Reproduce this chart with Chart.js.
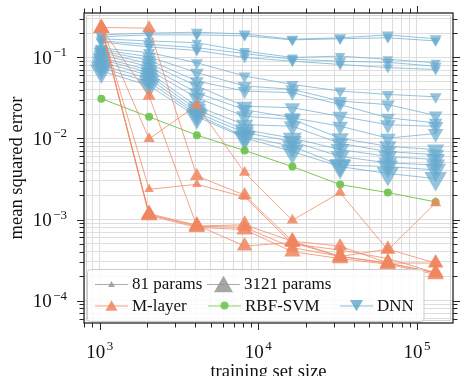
<!DOCTYPE html>
<html>
<head>
<meta charset="utf-8">
<script src="https://cdn.jsdelivr.net/npm/chart.js@4.4.0/dist/chart.umd.min.js"></script>
<style>
  html, body { margin: 0; padding: 0; background: #fff; }
  #wrap { width: 466px; height: 376px; }
</style>
</head>
<body>
<div id="wrap"><canvas id="chart" width="466" height="376"></canvas></div>
<script>
// Trainingsgrössen (x-Achse)
const trainSizes = [1024, 2048, 4096, 8192, 16384, 32768, 65536, 131072];

// M-layer: ein Lauf pro Parameteranzahl
const mlayerRuns = [
  [0.23, 0.0099, 0.0257, 0.0038, 0.00098, 0.00215, 0.00042, 0.0016],
  [0.235, 0.23, 0.00345, 0.0020, 0.00054, 0.00047, 0.00029, 0.00029],
  [0.23, 0.0334, 0.00083, 0.00080, 0.00045, 0.00035, 0.00029, 0.00022],
  [0.23, 0.00236, 0.00272, 0.0019, 0.00050, 0.00042, 0.00033, 0.00022],
  [0.23, 0.00115, 0.00083, 0.00086, 0.00054, 0.00035, 0.00029, 0.00022],
  [0.23, 0.00112, 0.00080, 0.00075, 0.00040, 0.00033, 0.00028, 0.00021],
  [0.23, 0.00118, 0.00085, 0.00047, 0.00052, 0.00035, 0.00043, 0.00029],
];

// RBF-SVM
const svmMse = [0.031, 0.0185, 0.011, 0.0071, 0.0045, 0.0027, 0.00215, 0.00165];

// DNN: ein Lauf pro Architektur
const dnnRuns = [
  [0.19, 0.20, 0.205, 0.195, 0.168, 0.175, 0.19, 0.17],
  [0.18, 0.19, 0.19, 0.185, 0.165, 0.17, 0.175, 0.16],
  [0.17, 0.16, 0.152, 0.12, 0.10, 0.104, 0.095, 0.086],
  [0.16, 0.145, 0.132, 0.112, 0.095, 0.09, 0.087, 0.078],
  [0.155, 0.135, 0.122, 0.10, 0.09, 0.082, 0.075, 0.071],
  [0.13, 0.115, 0.086, 0.059, 0.0465, 0.0385, 0.035, 0.0327],
  [0.125, 0.102, 0.065, 0.0445, 0.0405, 0.029, 0.0262, 0.0192],
  [0.12, 0.093, 0.051, 0.0385, 0.0367, 0.0262, 0.018, 0.0156],
  [0.115, 0.084, 0.0445, 0.025, 0.024, 0.0188, 0.0148, 0.0141],
  [0.108, 0.077, 0.0367, 0.0227, 0.018, 0.0142, 0.0101, 0.0115],
  [0.10, 0.07, 0.0318, 0.0188, 0.0172, 0.0101, 0.008, 0.0073],
  [0.095, 0.065, 0.025, 0.0148, 0.0142, 0.0087, 0.0069, 0.0063],
  [0.088, 0.06, 0.0227, 0.0128, 0.0101, 0.0073, 0.006, 0.0055],
  [0.08, 0.055, 0.0208, 0.0118, 0.0092, 0.006, 0.005, 0.0047],
  [0.074, 0.05, 0.0196, 0.0106, 0.008, 0.0047, 0.0045, 0.0041],
  [0.068, 0.045, 0.0186, 0.0102, 0.0069, 0.0045, 0.0037, 0.0032],
];

// Achsenbeschriftungen (Exponenten) und Legende
const xTickExps = [3, 4, 5];
const yTickExps = [-1, -2, -3, -4];
const legendLabels = ["81 params", "3121 params", "M-layer", "RBF-SVM", "DNN"];

// Stil: Markergrössen je Lauf
const mlayerSizes = [6.5, 8, 7.5, 5.5, 9.5, 9.5, 9];
const dnnSizes = [7, 6, 6, 7, 6, 7, 8, 8, 9, 9, 10, 10, 11, 11, 12, 13];

const ORANGE = "rgba(240,134,96,";
const BLUE = "rgba(103,169,207,";
const GREEN = "rgba(108,194,74,";
const SERIF = '"Liberation Serif", "DejaVu Serif", serif';

const toPoints = (ys) => trainSizes.map((x, i) => ({ x, y: ys[i] }));

const datasets = [];

// Reihenfolge: erste Datensätze liegen oben
mlayerRuns.forEach((run, i) => {
  datasets.push({
    label: "M-layer",
    data: toPoints(run),
    borderColor: ORANGE + "0.75)",
    borderWidth: 1,
    backgroundColor: ORANGE + "0.85)",
    pointStyle: "triangle",
    pointRadius: mlayerSizes[i],
    pointBorderWidth: 0,
  });
});

datasets.push({
  label: "RBF-SVM",
  data: toPoints(svmMse),
  borderColor: GREEN + "0.9)",
  borderWidth: 1,
  backgroundColor: GREEN + "0.9)",
  pointStyle: "circle",
  pointRadius: 4,
  pointBorderWidth: 0,
});

dnnRuns.forEach((run, i) => {
  datasets.push({
    label: "DNN",
    data: toPoints(run),
    borderColor: BLUE + "0.7)",
    borderWidth: 1,
    backgroundColor: BLUE + "0.7)",
    pointStyle: "triangle",
    pointRotation: 180,
    pointRadius: dnnSizes[i],
    pointBorderWidth: 0,
  });
});

// nur ganzzahlige Signifikanden (1..9 x 10^n) als Ticks behalten
function keepLogTicks(scale) {
  scale.ticks = scale.ticks.filter((t) => {
    const e = Math.floor(Math.log10(t.value) + 1e-9);
    const s = t.value / Math.pow(10, e);
    return Math.abs(s - Math.round(s)) < 1e-6 && t.value > scale.min && t.value < scale.max;
  });
}

function isDecade(v) {
  const e = Math.log10(v);
  return Math.abs(e - Math.round(e)) < 1e-6;
}

// Zeichnet "10" mit hochgestelltem Exponenten
function drawPow(ctx, exp, x, baseline, align) {
  const expTxt = exp < 0 ? "\u2212" + Math.abs(exp) : String(exp);
  ctx.font = "19px " + SERIF;
  const wBase = ctx.measureText("10").width;
  ctx.font = "13px " + SERIF;
  const wExp = ctx.measureText(expTxt).width;
  const total = wBase + 1.5 + wExp;
  const left = align === "center" ? x - total / 2 : x - total;
  ctx.textAlign = "left";
  ctx.textBaseline = "alphabetic";
  ctx.font = "19px " + SERIF;
  ctx.fillText("10", left, baseline);
  ctx.font = "13px " + SERIF;
  ctx.fillText(expTxt, left + wBase + 1.5, baseline - 7.5);
}

function drawTri(ctx, x, y, r, down) {
  const s = down ? -1 : 1;
  ctx.beginPath();
  ctx.moveTo(x, y - s * r);
  ctx.lineTo(x - r * 0.866, y + s * r * 0.5);
  ctx.lineTo(x + r * 0.866, y + s * r * 0.5);
  ctx.closePath();
  ctx.fill();
}

// Legende im Plotbereich unten links
function drawLegend(ctx) {
  ctx.save();
  ctx.beginPath();
  ctx.roundRect(87.5, 269.5, 336.5, 52, 3);
  ctx.fillStyle = "rgba(255,255,255,0.8)";
  ctx.fill();
  ctx.strokeStyle = "#cccccc";
  ctx.lineWidth = 1;
  ctx.stroke();

  const rows = [284, 305.5];
  const entries = [
    { x0: 95, row: 0, color: "rgba(150,150,150,", shape: "up", r: 4 },
    { x0: 207, row: 0, color: "rgba(150,150,150,", shape: "up", r: 11 },
    { x0: 95, row: 1, color: ORANGE, shape: "up", r: 7 },
    { x0: 208, row: 1, color: GREEN, shape: "circle", r: 4 },
    { x0: 340, row: 1, color: BLUE, shape: "down", r: 7.5 },
  ];
  entries.forEach((e, i) => {
    const y = rows[e.row];
    const cx = e.x0 + 16.5;
    ctx.strokeStyle = e.color + "0.8)";
    ctx.lineWidth = 1;
    ctx.beginPath();
    ctx.moveTo(e.x0, y + 0.5);
    ctx.lineTo(e.x0 + 33, y + 0.5);
    ctx.stroke();
    ctx.fillStyle = e.color + "0.85)";
    if (e.shape === "circle") {
      ctx.beginPath();
      ctx.arc(cx, y, e.r, 0, Math.PI * 2);
      ctx.fill();
    } else {
      drawTri(ctx, cx, e.shape === "up" ? y + e.r * 0.25 : y - e.r * 0.25, e.r, e.shape === "down");
    }
    ctx.fillStyle = "#111";
    ctx.font = "17px " + SERIF;
    ctx.textAlign = "left";
    ctx.textBaseline = "middle";
    ctx.fillText(legendLabels[i], e.x0 + 37, y + 1);
  });
  ctx.restore();
}

const axesPlugin = {
  id: "axesPlugin",
  beforeDatasetsDraw(chart) {
    const { ctx, chartArea: a } = chart;
    ctx.save();
    ctx.strokeStyle = "#d4d4d4";
    ctx.lineWidth = 1;
    ctx.strokeRect(a.left + 2.5, a.top + 2.5, a.right - a.left - 5, a.bottom - a.top - 5);
    ctx.restore();
  },
  afterDatasetsDraw(chart) {
    drawLegend(chart.ctx);
  },
  afterDraw(chart) {
    const { ctx, chartArea: a, scales } = chart;
    ctx.save();
    ctx.strokeStyle = "#262626";

    // Tick-Striche auf allen vier Seiten, nach aussen
    ctx.lineWidth = 1;
    ctx.beginPath();
    scales.x.ticks.forEach((t) => {
      const p = Math.round(scales.x.getPixelForValue(t.value)) + 0.5;
      const len = isDecade(t.value) ? 7 : 4.5;
      ctx.moveTo(p, a.bottom);
      ctx.lineTo(p, a.bottom + len);
      ctx.moveTo(p, a.top);
      ctx.lineTo(p, a.top - len);
    });
    scales.y.ticks.forEach((t) => {
      const p = Math.round(scales.y.getPixelForValue(t.value)) + 0.5;
      const len = isDecade(t.value) ? 7 : 4.5;
      ctx.moveTo(a.left, p);
      ctx.lineTo(a.left - len, p);
      ctx.moveTo(a.right, p);
      ctx.lineTo(a.right + len, p);
    });
    ctx.stroke();

    // Rahmen
    ctx.lineWidth = 1.3;
    ctx.strokeRect(a.left, a.top, a.right - a.left, a.bottom - a.top);

    // Achsenzahlen
    ctx.fillStyle = "#111";
    xTickExps.forEach((e) => {
      const p = scales.x.getPixelForValue(Math.pow(10, e));
      drawPow(ctx, e, p, 357.5, "center");
    });
    yTickExps.forEach((e) => {
      const p = scales.y.getPixelForValue(Math.pow(10, e));
      drawPow(ctx, e, 67, p + 6.5, "right");
    });
    ctx.restore();
  },
};

new Chart(document.getElementById("chart"), {
  type: "line",
  data: { datasets },
  plugins: [axesPlugin],
  options: {
    responsive: false,
    animation: false,
    devicePixelRatio: 1,
    events: [],
    layout: { padding: { top: 13, right: 6, left: 0, bottom: 0 } },
    plugins: {
      legend: { display: false },
      tooltip: { enabled: false },
    },
    scales: {
      x: {
        type: "logarithmic",
        position: "bottom",
        min: 796,
        max: 168700,
        afterBuildTicks: keepLogTicks,
        afterFit: (s) => { s.height = 53; },
        grid: { color: "#dedede", lineWidth: 1, drawTicks: false },
        border: { display: false },
        ticks: { display: false },
        title: {
          display: true,
          text: "training set size",
          color: "#111",
          font: { family: SERIF, size: 18.5, lineHeight: 1 },
          padding: { top: 0, bottom: -5 },
        },
      },
      y: {
        type: "logarithmic",
        position: "left",
        min: 5.28e-5,
        max: 0.354,
        afterBuildTicks: keepLogTicks,
        afterFit: (s) => { s.width = 84; },
        grid: { color: "#dedede", lineWidth: 1, drawTicks: false },
        border: { display: false },
        ticks: { display: false },
        title: {
          display: true,
          text: "mean squared error",
          color: "#111",
          font: { family: SERIF, size: 18.5, lineHeight: 1 },
          padding: { top: 8, bottom: 0 },
        },
      },
    },
  },
});
</script>
</body>
</html>
